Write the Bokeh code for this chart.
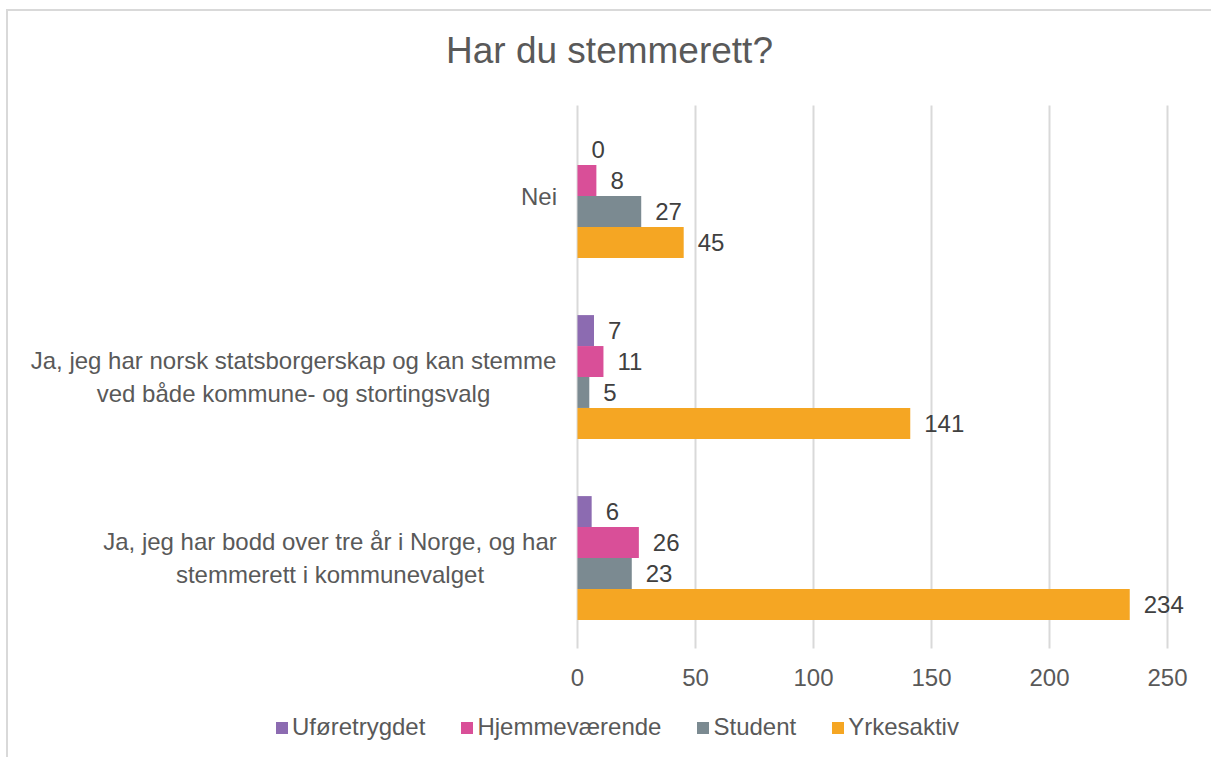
from bokeh.plotting import figure
from bokeh.models import (ColumnDataSource, Range1d, FixedTicker,
                          Label, LabelSet, Legend, LegendItem)
from bokeh.core.properties import value
from bokeh.embed import file_html
from bokeh.resources import INLINE

# ---------------- data ----------------
title_text = "Har du stemmerett?"
categories = [
    "Nei",
    "Ja, jeg har norsk statsborgerskap og kan stemme ved både kommune- og stortingsvalg",
    "Ja, jeg har bodd over tre år i Norge, og har stemmerett i kommunevalget",
]
category_lines = [
    "Nei",
    "Ja, jeg har norsk statsborgerskap og kan stemme\nved både kommune- og stortingsvalg",
    "Ja, jeg har bodd over tre år i Norge, og har\nstemmerett i kommunevalget",
]
series_names = ["Uføretrygdet", "Hjemmeværende", "Student", "Yrkesaktiv"]
uforetrygdet = [0, 7, 6]
hjemmevaerende = [8, 11, 26]
student = [27, 5, 23]
yrkesaktiv = [45, 141, 234]
x_ticks = [0, 50, 100, 150, 200, 250]

# ---------------- style / layout ----------------
colors = ["#8C6BB1", "#D94F98", "#7B8A91", "#F5A623"]
bar_h = 0.171
offsets = [1.5 * bar_h, 0.5 * bar_h, -0.5 * bar_h, -1.5 * bar_h]
FONT = "Liberation Sans"
label_centers = [-38.5, -284, -247.5]  # px relative to value-axis zero

W, H = 1205, 748
CANVAS_LEFT, CANVAS_TOP = 8, 11            # page position of canvas
ZERO_PX, MAX_PX = 577, 1167                 # page x of axis 0 and axis max
PLOT_TOP_PX, PLOT_BOTTOM_PX = 105, 648      # page y of category band
LEGEND_LEFT_PX, LEGEND_BOTTOM_PX = 274, 741
x_max = x_ticks[-1]
px_per_x = (MAX_PX - ZERO_PX) / x_max
n = len(categories)
px_per_cat = (PLOT_BOTTOM_PX - PLOT_TOP_PX) / n
x_start = -(ZERO_PX - CANVAS_LEFT) / px_per_x
x_end = (CANVAS_LEFT + W - ZERO_PX) / px_per_x
y_end = n + (PLOT_TOP_PX - CANVAS_TOP) / px_per_cat
y_start = -(CANVAS_TOP + H - PLOT_BOTTOM_PX) / px_per_cat

p = figure(width=W, height=H, output_backend="svg", toolbar_location=None,
           x_range=Range1d(x_start, x_end), y_range=Range1d(y_start, y_end),
           min_border_left=0, min_border_right=0, min_border_top=0,
           min_border_bottom=0)
p.styles = {"margin-left": "6px", "margin-top": "9px",
            "border-top": "2px solid #d9d9d9", "border-left": "2px solid #d9d9d9"}
p.outline_line_color = None
p.background_fill_color = "white"
p.border_fill_color = "white"
p.grid.visible = False

# vertical gridlines at the tick values, spanning the category band
p.segment(x0=x_ticks, x1=x_ticks, y0=[0] * len(x_ticks), y1=[n] * len(x_ticks),
          line_color="#d9d9d9", line_width=2)

# category positions (top to bottom as listed)
cat_pos = [n - i - 0.5 for i in range(n)]

series_values = [uforetrygdet, hjemmevaerende, student, yrkesaktiv]
renderers = []
for name, vals, col, off in zip(series_names, series_values, colors, offsets):
    src = ColumnDataSource(dict(y=[c + off for c in cat_pos], value=vals,
                                txt=[str(v) for v in vals]))
    r = p.hbar(y="y", right="value", left=0, height=bar_h,
               source=src, fill_color=col, line_color=None)
    renderers.append((name, r))
    ls = LabelSet(x="value", y="y", text="txt", source=src,
                  x_offset=14, text_align="left", text_baseline="middle",
                  text_font=value(FONT), text_font_size=value("24px"), text_color="#404040")
    p.add_layout(ls)

# axes: value axis pinned at the bottom of the category band
p.yaxis.visible = False
p.xaxis.fixed_location = 0
p.xaxis.ticker = FixedTicker(ticks=x_ticks)
p.xaxis.axis_line_color = None
p.xaxis.major_tick_line_color = None
p.xaxis.minor_tick_line_color = None
p.xaxis.major_label_text_font = FONT
p.xaxis.major_label_text_font_size = "24px"
p.xaxis.major_label_text_color = "#595959"
p.xaxis.major_label_standoff = 14

# category labels
for txt, cx, cy in zip(category_lines, label_centers, cat_pos):
    p.add_layout(Label(x=0, y=cy, x_offset=cx, text=txt, text_align="center",
                       text_baseline="middle", text_font=FONT, text_font_size="24px",
                       text_color="#595959", text_line_height=1.25))

# title
p.add_layout(Label(x=0, y=n, x_offset=32, y_offset=55, text=title_text, text_align="center",
                   text_baseline="middle", text_font=FONT, text_font_size="37px",
                   text_color="#595959"))

legend = Legend(items=[LegendItem(label=nm, renderers=[r]) for nm, r in renderers],
                orientation="horizontal",
                location=(LEGEND_LEFT_PX - CANVAS_LEFT, CANVAS_TOP + H - LEGEND_BOTTOM_PX),
                padding=0, margin=0,
                spacing=34, glyph_width=15, glyph_height=15, label_standoff=3,
                border_line_color=None, background_fill_alpha=0,
                label_text_font=FONT, label_text_font_size="24px", label_text_color="#595959")
p.add_layout(legend, "center")

open("out.html", "w").write(file_html(p, INLINE))
